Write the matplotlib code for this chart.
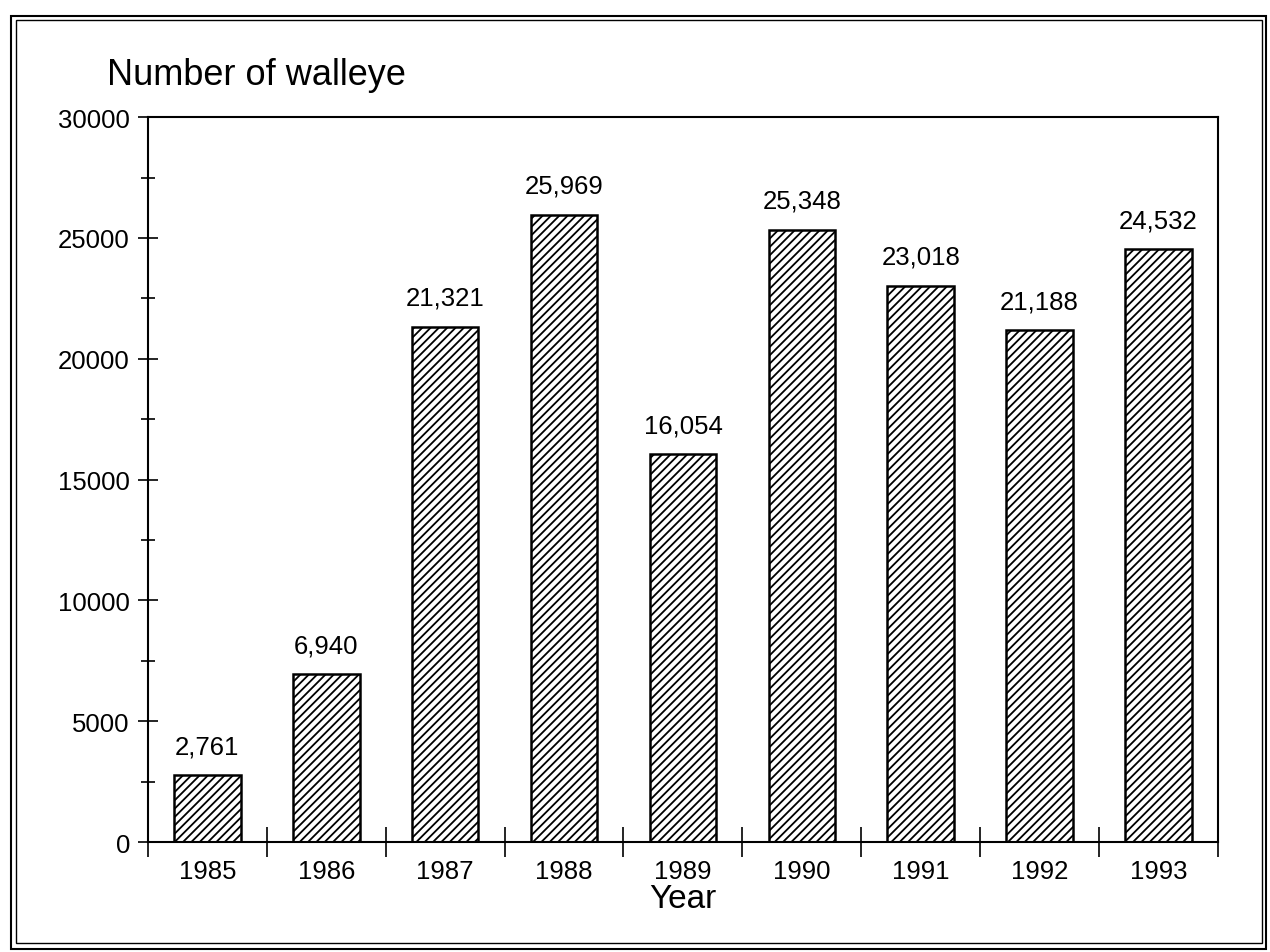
import matplotlib.pyplot as plt
from matplotlib.patches import Rectangle
from matplotlib.ticker import MultipleLocator

plt.rcParams['font.family'] = ['Liberation Sans', 'DejaVu Sans']
plt.rcParams['hatch.linewidth'] = 1.3

# data
years = ['1985', '1986', '1987', '1988', '1989', '1990', '1991', '1992', '1993']
walleye = [2761, 6940, 21321, 25969, 16054, 25348, 23018, 21188, 24532]

fig = plt.figure(figsize=(12.7, 9.53), dpi=100)
ax = fig.add_axes([0.1165, 0.1154, 0.8425, 0.7606])

x = range(len(years))
bars = ax.bar(x, walleye, width=0.56, color='white', edgecolor='black',
              linewidth=1.8, hatch='////')

for xi, v in zip(x, walleye):
    ax.text(xi, v + 700, f'{v:,}', ha='center', va='bottom', fontsize=18.5)

ax.set_xlim(-0.5, len(years) - 0.5)
ax.set_ylim(0, 30000)

# y ticks
ax.yaxis.set_major_locator(MultipleLocator(5000))
ax.yaxis.set_minor_locator(MultipleLocator(2500))
ax.tick_params(axis='y', which='major', direction='inout', length=14, width=1.2,
               labelsize=18.5, pad=6)
ax.tick_params(axis='y', which='minor', direction='inout', length=10, width=1.2)

# x ticks between categories, labels centred under bars
ax.set_xticks([i - 0.5 for i in range(len(years) + 1)])
ax.set_xticklabels([])
ax.set_xticks(list(x), minor=True)
ax.set_xticklabels(years, minor=True, fontsize=18.5)
ax.tick_params(axis='x', which='major', direction='inout', length=22, width=1.2)
ax.tick_params(axis='x', which='minor', length=0, pad=12)

for s in ax.spines.values():
    s.set_linewidth(1.5)

ax.set_xlabel('Year', fontsize=24, labelpad=0)
fig.text(0.084, 0.921, 'Number of walleye', fontsize=26, ha='left', va='center')

# double frame round the figure
fig.patches.append(Rectangle((0.009, 0.003), 0.988, 0.979, transform=fig.transFigure,
                             fill=False, edgecolor='black', linewidth=1.5))
fig.patches.append(Rectangle((0.0125, 0.009), 0.981, 0.969, transform=fig.transFigure,
                             fill=False, edgecolor='black', linewidth=1.0))

fig.savefig('out.png', dpi=100)
